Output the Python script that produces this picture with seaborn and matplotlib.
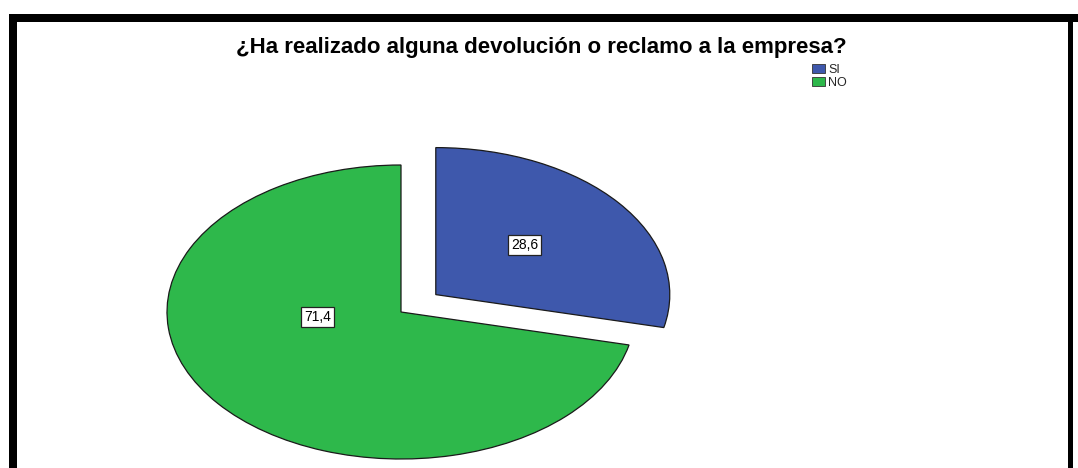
import matplotlib
matplotlib.use("Agg")
import matplotlib.pyplot as plt
from matplotlib.patches import Rectangle, Patch
import numpy as np
import seaborn as sns

# Survey answers (percent)
categories = ["SI", "NO"]
percentages = [28.6, 71.4]
title_text = "¿Ha realizado alguna devolución o reclamo a la empresa?"

sns.set_theme(style="white")
plt.rcParams["font.family"] = ["Liberation Sans", "DejaVu Sans"]

colors = ["#3E58AC", "#2EB84B"]
W, H, DPI = 1078, 468, 100
fig = plt.figure(figsize=(W / DPI, H / DPI), dpi=DPI)
fig.patch.set_facecolor("white")

ax = fig.add_axes([0, 0, 1, 1])
wedges, _ = ax.pie(
    percentages,
    colors=colors,
    startangle=90,
    counterclock=False,
    explode=[0.19, 0.0],
    wedgeprops=dict(edgecolor="#1a1a1a", linewidth=0.9),
)

# Stretch the pie horizontally: pixel centre and radii of the drawing area
cx, cy, rx, ry = 401, H - 312, 234, 147
ax.set_aspect("auto")
ax.set_xlim(-cx / rx, (W - cx) / rx)
ax.set_ylim(-cy / ry, (H - cy) / ry)
ax.axis("off")

# Value labels inside each slice
label_offsets = {0: (0.38, 0.34), 1: (-0.355, -0.035)}
for i, (w, v) in enumerate(zip(wedges, percentages)):
    wx, wy = w.center
    ox, oy = label_offsets[i]
    ax.text(
        wx + ox, wy + oy, f"{v:.1f}".replace(".", ","),
        ha="center", va="center", fontsize=10, color="black",
        bbox=dict(boxstyle="square,pad=0.22", facecolor="white",
                  edgecolor="#222222", linewidth=0.9),
    )

# Title
fig.text(541 / W, 1 - 47 / H, title_text, ha="center", va="center",
         fontsize=16, fontweight="bold", color="black")

# Legend
handles = [Patch(facecolor=c, edgecolor="#333333", linewidth=0.6, label=l)
           for c, l in zip(colors, categories)]
fig.legend(handles=handles, loc="upper left",
           bbox_to_anchor=(812 / W, 1 - 64 / H), frameon=False,
           fontsize=9, handlelength=1.0, handleheight=0.75,
           handletextpad=0.3, labelspacing=0.1, borderpad=0, borderaxespad=0)

# Black frame around the chart
def px_rect(x0, y0, x1, y1):
    fig.add_artist(Rectangle((x0 / W, 1 - y1 / H), (x1 - x0) / W, (y1 - y0) / H,
                             transform=fig.transFigure, facecolor="black",
                             edgecolor="none"))

px_rect(9, 14, W, 22)
px_rect(9, 14, 17, H)
px_rect(1068, 14, 1073, H)

fig.savefig("out.png", dpi=DPI, facecolor="white")
